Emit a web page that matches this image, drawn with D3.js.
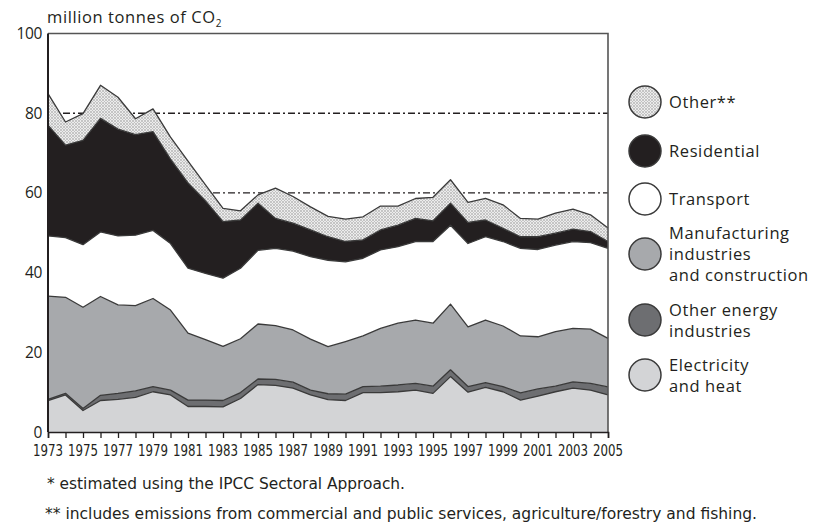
<!DOCTYPE html>
<html>
<head>
<meta charset="utf-8">
<title>CO2 emissions by sector</title>
<style>
  body { margin: 0; background: #fff; }
  text { font-family: "Open Sans", "DejaVu Sans", sans-serif; fill: #231f20; }
  .narrow { font-family: "Liberation Sans Narrow", "DejaVu Sans Condensed", sans-serif; }
</style>
</head>
<body>
<svg width="813" height="526"></svg>
<script src="https://d3js.org/d3.v7.min.js"></script>
<script>
// data (million tonnes of CO2)
var years = d3.range(1973, 2006);
var electricity = [7.9, 9.3, 5.4, 7.9, 8.2, 8.7, 10.1, 9.3, 6.4, 6.4, 6.3, 8.4, 11.9, 11.7, 11.0, 9.3, 8.1, 7.9, 9.9, 9.9, 10.1, 10.5, 9.7, 13.9, 10.0, 11.2, 10.1, 8.0, 9.0, 10.1, 11.0, 10.5, 9.3];
var otherEnergy = [0.3, 0.4, 0.5, 1.3, 1.5, 1.6, 1.3, 1.2, 1.6, 1.6, 1.6, 1.5, 1.4, 1.5, 1.5, 1.2, 1.5, 1.6, 1.5, 1.6, 1.7, 1.7, 1.8, 1.7, 1.4, 1.2, 1.3, 1.8, 1.8, 1.4, 1.6, 1.7, 2.0];
var manufacturing = [25.9, 24.1, 25.4, 24.8, 22.2, 21.4, 22.1, 20.1, 16.8, 15.2, 13.6, 13.5, 13.8, 13.5, 13.1, 12.8, 11.8, 13.2, 12.7, 14.5, 15.5, 15.9, 15.8, 16.5, 15.0, 15.7, 15.2, 14.3, 13.1, 13.7, 13.4, 13.6, 12.2];
var transport = [15.1, 15.0, 15.7, 16.2, 17.3, 17.7, 17.1, 16.7, 16.3, 16.6, 17.1, 17.7, 18.5, 19.4, 19.8, 20.7, 21.7, 20.0, 19.5, 19.7, 19.2, 19.7, 20.5, 19.8, 20.9, 20.9, 21.2, 22.0, 21.9, 21.7, 21.8, 21.7, 22.6];
var residential = [27.8, 23.2, 26.2, 28.5, 26.8, 25.2, 24.8, 21.2, 21.4, 18.2, 14.2, 12.1, 11.8, 7.5, 7.0, 6.7, 5.9, 5.1, 4.6, 5.0, 5.4, 5.8, 5.2, 5.5, 5.3, 4.2, 3.3, 2.9, 3.2, 3.0, 3.1, 2.8, 1.7];
var other = [7.9, 5.8, 6.7, 8.3, 8.0, 4.0, 5.7, 5.5, 5.5, 4.0, 3.3, 2.3, 2.1, 7.6, 6.7, 5.8, 5.1, 5.6, 5.8, 6.0, 4.8, 5.0, 5.9, 5.9, 5.0, 5.4, 5.9, 4.6, 4.4, 5.0, 5.0, 4.2, 3.4];

var yTicks = [0, 20, 40, 60, 80, 100];
var xTickLabels = d3.range(1973, 2006, 2);
var refLines = [60, 80];

var keys = ["electricity", "otherEnergy", "manufacturing", "transport", "residential", "other"];
var legendLabels = {
  other: ["Other**"],
  residential: ["Residential"],
  transport: ["Transport"],
  manufacturing: ["Manufacturing", "industries", "and construction"],
  otherEnergy: ["Other energy", "industries"],
  electricity: ["Electricity", "and heat"]
};
var colors = {
  electricity: "#d3d4d6",
  otherEnergy: "#6d6e71",
  manufacturing: "#a7a9ac",
  transport: "#ffffff",
  residential: "#231f20",
  other: "url(#dots)"
};

var rows = years.map(function (yr, i) {
  return {
    year: yr,
    electricity: electricity[i],
    otherEnergy: otherEnergy[i],
    manufacturing: manufacturing[i],
    transport: transport[i],
    residential: residential[i],
    other: other[i]
  };
});

var svg = d3.select("svg");
var plotLeft = 48, plotRight = 608, plotTop = 33.5, plotBottom = 432;

var x = d3.scaleLinear().domain([1973, 2005]).range([plotLeft, plotRight]);
var y = d3.scaleLinear().domain([0, 100]).range([plotBottom, plotTop]);

// dotted fill for "Other"
var pat = svg.append("defs").append("pattern")
  .attr("id", "dots").attr("patternUnits", "userSpaceOnUse")
  .attr("width", 3).attr("height", 3);
pat.append("rect").attr("width", 3).attr("height", 3).attr("fill", "#ececec");
pat.append("circle").attr("cx", 1).attr("cy", 1).attr("r", 0.75).attr("fill", "#8a8a8a");
pat.append("circle").attr("cx", 2.5).attr("cy", 2.5).attr("r", 0.5).attr("fill", "#b0b0b0");

// reference lines behind the areas
svg.selectAll("line.ref").data(refLines).enter().append("line")
  .attr("class", "ref")
  .attr("x1", plotLeft).attr("x2", plotRight)
  .attr("y1", function (d) { return y(d); }).attr("y2", function (d) { return y(d); })
  .attr("stroke", "#231f20").attr("stroke-width", 1.4)
  .attr("stroke-dasharray", "7,3,2,3");

var series = d3.stack().keys(keys)(rows);

var area = d3.area()
  .x(function (d) { return x(d.data.year); })
  .y0(function (d) { return y(d[0]); })
  .y1(function (d) { return y(d[1]); });

var topLine = d3.line()
  .x(function (d) { return x(d.data.year); })
  .y(function (d) { return y(d[1]); });

svg.selectAll("path.area").data(series).enter().append("path")
  .attr("class", "area")
  .attr("d", area)
  .attr("fill", function (d) { return colors[d.key]; });

svg.selectAll("path.edge").data(series).enter().append("path")
  .attr("class", "edge")
  .attr("d", topLine)
  .attr("fill", "none")
  .attr("stroke", "#3a3a3a")
  .attr("stroke-width", 1.3)
  .attr("stroke-linejoin", "round");

// frame
svg.append("path")
  .attr("d", "M" + plotLeft + "," + plotTop + "H" + plotRight + "V" + plotBottom)
  .attr("fill", "none").attr("stroke", "#555").attr("stroke-width", 1.6);
svg.append("line")
  .attr("x1", plotLeft).attr("x2", plotLeft).attr("y1", plotTop).attr("y2", plotBottom)
  .attr("stroke", "#231f20").attr("stroke-width", 2);

// x axis
var xAxis = svg.append("g")
  .attr("transform", "translate(0," + plotBottom + ")")
  .call(d3.axisBottom(x).tickValues(years).tickSize(6).tickFormat(""));
xAxis.select(".domain").attr("stroke", "#231f20").attr("stroke-width", 1.6);
xAxis.selectAll(".tick line").attr("stroke", "#231f20").attr("stroke-width", 1.3);

svg.selectAll("text.xlab").data(xTickLabels).enter().append("text")
  .attr("class", "xlab narrow")
  .attr("x", function (d) { return x(d); })
  .attr("y", 456)
  .attr("text-anchor", "middle")
  .attr("font-size", 15)
  .attr("textLength", 30)
  .attr("lengthAdjust", "spacingAndGlyphs")
  .text(function (d) { return d; });

// y axis labels
svg.selectAll("text.ylab").data(yTicks).enter().append("text")
  .attr("class", "ylab")
  .attr("x", 42)
  .attr("y", function (d) { return y(d) + 5.5; })
  .attr("text-anchor", "end")
  .attr("font-size", 15.5)
  .attr("letter-spacing", -0.4)
  .text(function (d) { return d; });

var title = svg.append("text")
  .attr("x", 47).attr("y", 23)
  .attr("font-size", 16.5)
  .attr("letter-spacing", 0.6)
  .text("million tonnes of CO");
title.append("tspan").attr("font-size", 10).attr("dy", 4).text("2");

// legend
var legendY = { other: 102, residential: 151, transport: 199, manufacturing: 254, otherEnergy: 320, electricity: 375 };
var legendKeys = keys.slice().reverse();
var lg = svg.selectAll("g.legend").data(legendKeys).enter().append("g")
  .attr("class", "legend")
  .attr("transform", function (d) { return "translate(645," + legendY[d] + ")"; });
lg.append("circle")
  .attr("r", 16)
  .attr("fill", function (d) { return colors[d]; })
  .attr("stroke", "#3a3a3a")
  .attr("stroke-width", 1.5);
lg.append("text")
  .attr("font-size", 16.5)
  .attr("letter-spacing", 0.6)
  .each(function (d) {
    var lines = legendLabels[d];
    var t = d3.select(this);
    var start = 6 - (lines.length - 1) * 10.5;
    lines.forEach(function (s, i) {
      t.append("tspan").attr("x", 24).attr("y", start + i * 21).text(s);
    });
  });

// footnotes
svg.append("text")
  .attr("class", "narrow")
  .attr("x", 47).attr("y", 489)
  .attr("font-size", 16)
  .attr("textLength", 358)
  .attr("lengthAdjust", "spacingAndGlyphs")
  .text("* estimated using the IPCC Sectoral Approach.");
svg.append("text")
  .attr("class", "narrow")
  .attr("x", 45).attr("y", 519)
  .attr("font-size", 16)
  .attr("textLength", 712)
  .attr("lengthAdjust", "spacingAndGlyphs")
  .text("** includes emissions from commercial and public services, agriculture/forestry and fishing.");
</script>
</body>
</html>
